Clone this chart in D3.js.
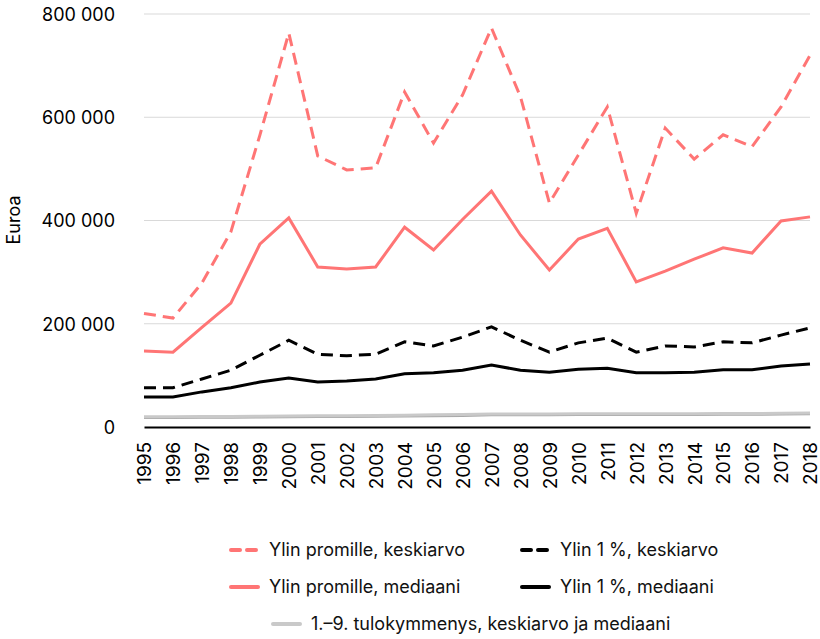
<!DOCTYPE html>
<html>
<head>
<meta charset="utf-8">
<script src="https://cdn.jsdelivr.net/npm/d3@7"></script>
<style>
  body { margin: 0; background: #fff; }
  text { font-family: Inter, "Noto Sans", sans-serif; }
</style>
</head>
<body>
<div id="chart"></div>
<script>
var years = d3.range(1995, 2019);

var promille_mean = [220000, 211000, 279000, 378000, 565000, 763000, 525000, 498000, 502000, 649000, 550000, 643000, 773000, 640000, 434000, 527000, 620000, 414000, 579000, 519000, 566000, 543000, 620000, 720000];
var promille_median = [147000, 145000, 193000, 240000, 354000, 405000, 310000, 306000, 310000, 387000, 343000, 402000, 457000, 372000, 304000, 364000, 385000, 281000, 302000, 325000, 347000, 337000, 399000, 407000];
var top1_mean = [76000, 76000, 93000, 110000, 139000, 168000, 141000, 138000, 141000, 165000, 157000, 174000, 194000, 168000, 145000, 163000, 172000, 145000, 157000, 155000, 165000, 163000, 178000, 192000];
var top1_median = [58000, 58000, 68000, 76000, 87000, 95000, 87000, 89000, 93000, 103000, 105000, 110000, 120000, 110000, 106000, 112000, 114000, 105000, 105000, 106000, 111000, 111000, 118000, 122000];
var dec_mean = [20000, 20000, 20500, 20500, 21000, 21500, 22000, 22000, 22500, 23000, 23500, 24000, 25000, 25000, 25000, 25500, 25500, 25500, 25500, 25500, 26000, 26000, 26500, 27000];
var dec_median = [18500, 18500, 19000, 19000, 19500, 20000, 20500, 20500, 21000, 21500, 22000, 22500, 23500, 23500, 23500, 24000, 24000, 24000, 24000, 24000, 24500, 24500, 25000, 25500];

var y_ticks = [0, 200000, 400000, 600000, 800000];

var pink = "#ff7575";

var series = [
	{ name: "1.–9. tulokymmenys, keskiarvo", values: dec_median, color: "#a9a9a9", dash: null, width: 3 },
	{ name: "1.–9. tulokymmenys, mediaani", values: dec_mean, color: "#c9c9c9", dash: null, width: 3 },
	{ name: "Ylin 1 %, mediaani", values: top1_median, color: "#000", dash: null, width: 3 },
	{ name: "Ylin 1 %, keskiarvo", values: top1_mean, color: "#000", dash: "12,7", width: 3 },
	{ name: "Ylin promille, mediaani", values: promille_median, color: pink, dash: null, width: 3 },
	{ name: "Ylin promille, keskiarvo", values: promille_mean, color: pink, dash: "12,7", width: 3 }
];

var legend_items = [
	{ label: "Ylin promille, keskiarvo", color: pink, dash: true, x: 231, y: 550 },
	{ label: "Ylin 1 %, keskiarvo", color: "#000", dash: true, x: 522, y: 550 },
	{ label: "Ylin promille, mediaani", color: pink, dash: false, x: 231, y: 587 },
	{ label: "Ylin 1 %, mediaani", color: "#000", dash: false, x: 522, y: 587 },
	{ label: "1.–9. tulokymmenys, keskiarvo ja mediaani", color: "#c9c9c9", dash: false, x: 273, y: 624 }
];

var width = 820, height = 639;
var margin = { top: 14, right: 10, bottom: 212, left: 144 };

var svg = d3.select("#chart").append("svg")
	.attr("width", width)
	.attr("height", height);

var x_scale = d3.scaleLinear()
	.domain([1995, 2018])
	.range([margin.left, width - margin.right]);

var y_scale = d3.scaleLinear()
	.domain([0, 800000])
	.range([height - margin.bottom, margin.top]);

// gridlines
svg.append("g")
	.selectAll("line")
	.data(y_ticks.filter(function (d) { return d > 0; }))
	.enter()
	.append("line")
	.attr("x1", x_scale(1995))
	.attr("x2", x_scale(2018))
	.attr("y1", function (d) { return y_scale(d); })
	.attr("y2", function (d) { return y_scale(d); })
	.attr("stroke", "#d9d9d9")
	.attr("stroke-width", 1.2);

// y axis
var y_axis = svg.append("g")
	.attr("transform", "translate(" + (margin.left - 26) + ",0)")
	.call(d3.axisLeft(y_scale)
		.tickValues(y_ticks)
		.tickSize(0)
		.tickFormat(function (d) { return d3.format(",")(d).replace(/,/g, " "); }));
y_axis.select(".domain").remove();
y_axis.selectAll("text")
	.attr("font-family", "Inter, sans-serif")
	.attr("font-size", 18)
	.attr("fill", "#000")
	.attr("dy", "0.36em");

svg.append("text")
	.attr("transform", "translate(20," + 220 + ") rotate(-90)")
	.attr("text-anchor", "middle")
	.attr("font-size", 18)
	.attr("fill", "#000")
	.text("Euroa");

// lines
var line = d3.line()
	.x(function (d, i) { return x_scale(years[i]); })
	.y(function (d) { return y_scale(d); });

svg.append("g")
	.selectAll("path")
	.data(series)
	.enter()
	.append("path")
	.attr("d", function (d) { return line(d.values); })
	.attr("fill", "none")
	.attr("stroke", function (d) { return d.color; })
	.attr("stroke-width", function (d) { return d.width; })
	.attr("stroke-dasharray", function (d) { return d.dash; })
	.attr("stroke-linejoin", "miter");

// x axis (zero line)
var x_axis = svg.append("g")
	.attr("transform", "translate(0," + y_scale(0) + ")")
	.call(d3.axisBottom(x_scale)
		.tickValues(years)
		.tickSize(0)
		.tickFormat(d3.format("d")));
x_axis.select(".domain")
	.attr("stroke", "#000")
	.attr("stroke-width", 2.2);
x_axis.selectAll("text")
	.attr("font-family", "'Liberation Sans', Arial, sans-serif")
	.attr("font-size", 19)
	.attr("fill", "#000")
	.attr("text-anchor", "end")
	.attr("transform", "rotate(-90)")
	.attr("x", -15)
	.attr("y", 0)
	.attr("dy", "0.36em");

// legend
var legend = svg.append("g")
	.selectAll("g")
	.data(legend_items)
	.enter()
	.append("g")
	.attr("transform", function (d) { return "translate(" + d.x + "," + d.y + ")"; });

legend.append("line")
	.attr("x1", 0)
	.attr("x2", 27)
	.attr("stroke", function (d) { return d.color; })
	.attr("stroke-width", 4)
	.attr("stroke-linecap", "round")
	.attr("stroke-dasharray", function (d) { return d.dash ? "9,7" : null; });

legend.append("text")
	.attr("x", 38)
	.attr("dy", "0.35em")
	.attr("font-size", 18)
	.attr("fill", "#111")
	.text(function (d) { return d.label; });
</script>
</body>
</html>
